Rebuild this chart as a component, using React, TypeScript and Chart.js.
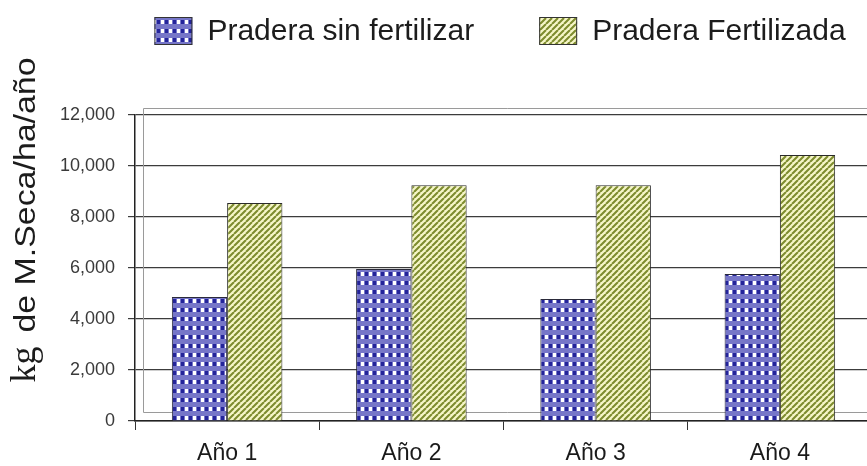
import React, { useEffect, useRef } from 'react';
import { Chart, registerables } from 'chart.js';

Chart.register(...registerables);

const categories = ['Año 1', 'Año 2', 'Año 3', 'Año 4'];
const seriesNames = ['Pradera sin fertilizar', 'Pradera Fertilizada'];
const sinFertilizar = [4860, 5960, 4780, 5760];
const fertilizada = [8550, 9250, 9250, 10430];
const yTicks = [0, 2000, 4000, 6000, 8000, 10000, 12000];
const yTitleUnit = 'kg';
const yTitleRest = 'de M.Seca/ha/año';

const SANS = '"Liberation Sans", Arial, Helvetica, sans-serif';
const SERIF = '"Liberation Serif", "Times New Roman", serif';

function makeDotPattern(ctx: CanvasRenderingContext2D): CanvasPattern {
  const c = document.createElement('canvas');
  c.width = 8;
  c.height = 9;
  const g = c.getContext('2d')!;
  g.fillStyle = '#7676c8';
  g.fillRect(0, 0, 8, 9);
  g.fillStyle = '#ffffff';
  g.fillRect(1, 2, 3, 4);
  g.fillStyle = '#24249a';
  g.fillRect(5, 2, 3, 4);
  return ctx.createPattern(c, 'repeat')!;
}

function makeHatchPattern(ctx: CanvasRenderingContext2D): CanvasPattern {
  const s = 6;
  const c = document.createElement('canvas');
  c.width = s;
  c.height = s;
  const g = c.getContext('2d')!;
  g.fillStyle = '#f6f6c8';
  g.fillRect(0, 0, s, s);
  g.strokeStyle = '#7e8c2e';
  g.lineWidth = 2.1;
  g.beginPath();
  for (const k of [-s, 0, s]) {
    g.moveTo(k, s);
    g.lineTo(k + s, 0);
  }
  g.stroke();
  return ctx.createPattern(c, 'repeat')!;
}

export default function App() {
  const ref = useRef<HTMLCanvasElement | null>(null);

  useEffect(() => {
    const canvas = ref.current!;
    const ctx0 = canvas.getContext('2d')!;
    const dots = makeDotPattern(ctx0);
    const hatch = makeHatchPattern(ctx0);
    const fills = [dots, hatch];

    const decor = {
      id: 'decor',
      beforeDatasetsDraw(chart: any) {
        const { ctx, chartArea } = chart;
        ctx.save();
        ctx.strokeStyle = '#9a9a9a';
        ctx.lineWidth = 1;
        ctx.beginPath();
        ctx.moveTo(chartArea.left + 8.5, chartArea.bottom - 8.5);
        ctx.lineTo(chartArea.left + 8.5, chartArea.top - 6.5);
        ctx.lineTo(chartArea.right, chartArea.top - 6.5);
        ctx.moveTo(chartArea.left + 8.5, chartArea.bottom - 8.5);
        ctx.lineTo(chartArea.right, chartArea.bottom - 8.5);
        ctx.stroke();
        ctx.restore();
      },
      afterDraw(chart: any) {
        const { ctx } = chart;
        ctx.save();
        // Legend
        ctx.font = `30px ${SANS}`;
        const w1 = ctx.measureText(seriesNames[0]).width;
        const w2 = ctx.measureText(seriesNames[1]).width;
        const boxW = 38, boxH = 28, gapT = 15, gapI = 65;
        const total = boxW + gapT + w1 + gapI + boxW + gapT + w2;
        let x = 500 - total / 2;
        const cy = 31;
        const widths = [w1, w2];
        for (let i = 0; i < 2; i++) {
          ctx.fillStyle = fills[i];
          ctx.fillRect(x, cy - boxH / 2, boxW, boxH);
          ctx.strokeStyle = '#333';
          ctx.lineWidth = 1;
          ctx.strokeRect(x + 0.5, cy - boxH / 2 + 0.5, boxW - 1, boxH - 1);
          ctx.fillStyle = '#1c1c1c';
          ctx.textBaseline = 'middle';
          ctx.textAlign = 'left';
          ctx.fillText(seriesNames[i], x + boxW + gapT, cy + 1);
          x += boxW + gapT + widths[i] + gapI;
        }
        // Y-axis title
        ctx.translate(35, 220);
        ctx.rotate(-Math.PI / 2);
        ctx.font = `36px ${SERIF}`;
        const kw = ctx.measureText(yTitleUnit).width;
        ctx.font = `30px ${SANS}`;
        const rw = ctx.measureText(yTitleRest).width * 1.13;
        const gap = 14;
        const tot = kw + gap + rw;
        const start = -tot / 2;
        ctx.textBaseline = 'alphabetic';
        ctx.textAlign = 'left';
        ctx.fillStyle = '#1c1c1c';
        ctx.font = `36px ${SERIF}`;
        ctx.fillText(yTitleUnit, start, 0);
        ctx.font = `30px ${SANS}`;
        ctx.save();
        ctx.translate(start + kw + gap, 0);
        ctx.scale(1.13, 1);
        ctx.fillText(yTitleRest, 0, 0);
        ctx.restore();
        ctx.restore();
      },
    };

    const chart = new Chart(canvas, {
      type: 'bar',
      data: {
        labels: categories,
        datasets: [
          {
            label: seriesNames[0],
            data: sinFertilizar,
            backgroundColor: dots as any,
            borderColor: '#2a2a3a',
            borderWidth: 1,
            barPercentage: 1,
            categoryPercentage: 0.6,
          },
          {
            label: seriesNames[1],
            data: fertilizada,
            backgroundColor: hatch as any,
            borderColor: '#2a2a2a',
            borderWidth: 1,
            barPercentage: 1,
            categoryPercentage: 0.6,
          },
        ],
      },
      options: {
        animation: false,
        responsive: false,
        maintainAspectRatio: false,
        layout: { padding: { top: 115, left: 0, right: 0, bottom: 0 } },
        plugins: {
          legend: { display: false },
          tooltip: { enabled: false },
          title: { display: false },
        },
        scales: {
          x: {
            grid: {
              drawOnChartArea: false,
              drawTicks: true,
              tickLength: 9,
              color: '#333',
              offset: true,
            },
            border: { color: '#222', width: 1.5 },
            ticks: {
              font: { family: SANS, size: 23 },
              color: '#1a1a1a',
              padding: 10,
            },
            afterFit: (s: any) => {
              s.height = 45;
            },
          },
          y: {
            min: 0,
            max: 12000,
            afterBuildTicks: (s: any) => {
              s.ticks = yTicks.map((v) => ({ value: v }));
            },
            ticks: {
              callback: (v: any) => Number(v).toLocaleString('en-US'),
              font: { family: SANS, size: 18 },
              color: '#3a3a3a',
              padding: 13,
            },
            grid: { color: '#3c3c3c', tickLength: 7, lineWidth: 1.2 },
            border: { color: '#222', width: 1.5 },
            afterFit: (s: any) => {
              s.width = 135;
            },
          },
        },
      },
      plugins: [decor],
    });

    return () => chart.destroy();
  }, []);

  return (
    <div
      style={{
        position: 'fixed',
        left: 0,
        top: 0,
        width: 867,
        height: 466,
        overflow: 'hidden',
        background: '#fff',
      }}
    >
      <canvas ref={ref} width={872} height={466} style={{ width: 872, height: 466, display: 'block' }} />
    </div>
  );
}
